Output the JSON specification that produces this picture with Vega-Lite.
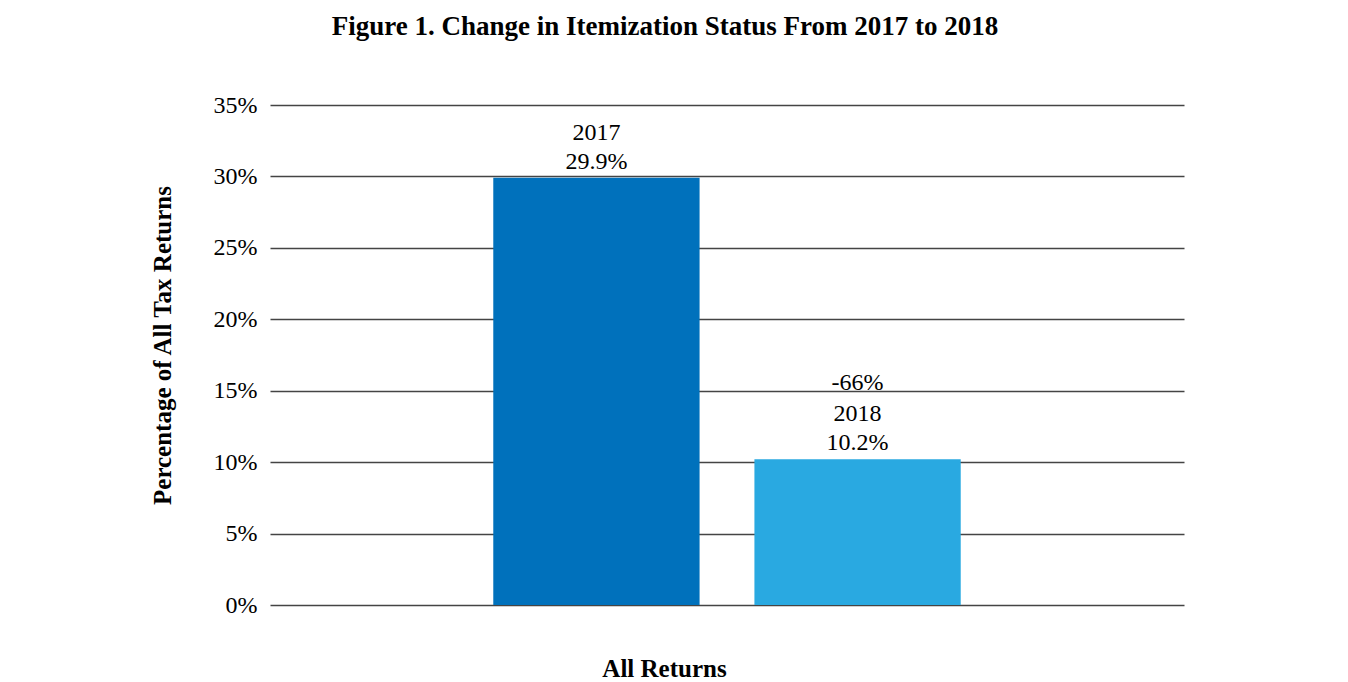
{
  "$schema": "https://vega.github.io/schema/vega-lite/v6.json",
  "width": 914,
  "height": 500,
  "autosize": {"type": "none"},
  "padding": {"left": 270, "top": 105, "right": 164, "bottom": 77},
  "background": "white",
  "config": {"view": {"stroke": null}, "font": "Liberation Serif"},
  "title": {
    "text": "Figure 1. Change in Itemization Status From 2017 to 2018",
    "font": "Liberation Serif",
    "fontSize": 27,
    "fontWeight": "bold",
    "color": "black",
    "dx": -62,
    "offset": 52
  },
  "data": {
    "values": [
      {"year": "2017", "pct": 0.299, "change": null},
      {"year": "2018", "pct": 0.102, "change": "-66%"}
    ]
  },
  "encoding": {
    "x": {
      "field": "year",
      "type": "nominal",
      "scale": {"paddingInner": 0.21, "paddingOuter": 0.855},
      "axis": {
        "title": "All Returns",
        "labels": false,
        "ticks": false,
        "domain": false,
        "titleFont": "Liberation Serif",
        "titleFontSize": 25,
        "titleFontWeight": "bold",
        "titleColor": "black",
        "titlePadding": 51,
        "titleX": 394
      }
    },
    "y": {
      "field": "pct",
      "type": "quantitative",
      "scale": {"domain": [0, 0.35]},
      "axis": {
        "title": "Percentage of All Tax Returns",
        "values": [0, 0.05, 0.1, 0.15, 0.2, 0.25, 0.3, 0.35],
        "format": ".0%",
        "ticks": false,
        "domain": false,
        "grid": true,
        "gridColor": "#444444",
        "gridWidth": 1.3,
        "labelFont": "Liberation Serif",
        "labelFontSize": 24,
        "labelColor": "black",
        "labelPadding": 13,
        "titleFont": "Liberation Serif",
        "titleFontSize": 25,
        "titleFontWeight": "bold",
        "titleColor": "black",
        "titlePadding": 38,
        "titleY": 240
      }
    }
  },
  "layer": [
    {
      "mark": {"type": "bar"},
      "encoding": {
        "color": {
          "field": "year",
          "type": "nominal",
          "scale": {"domain": ["2017", "2018"], "range": ["#0071BC", "#29A9E1"]},
          "legend": null
        }
      }
    },
    {
      "mark": {"type": "text", "align": "center", "baseline": "alphabetic", "dy": -9, "fontSize": 24, "font": "Liberation Serif", "color": "black"},
      "encoding": {"text": {"field": "pct", "type": "quantitative", "format": ".1%"}}
    },
    {
      "mark": {"type": "text", "align": "center", "baseline": "alphabetic", "dy": -38, "fontSize": 24, "font": "Liberation Serif", "color": "black"},
      "encoding": {"text": {"field": "year", "type": "nominal"}}
    },
    {
      "transform": [{"filter": "datum.change != null"}],
      "mark": {"type": "text", "align": "center", "baseline": "alphabetic", "dy": -69, "fontSize": 24, "font": "Liberation Serif", "color": "black"},
      "encoding": {"text": {"field": "change", "type": "nominal"}}
    }
  ]
}
